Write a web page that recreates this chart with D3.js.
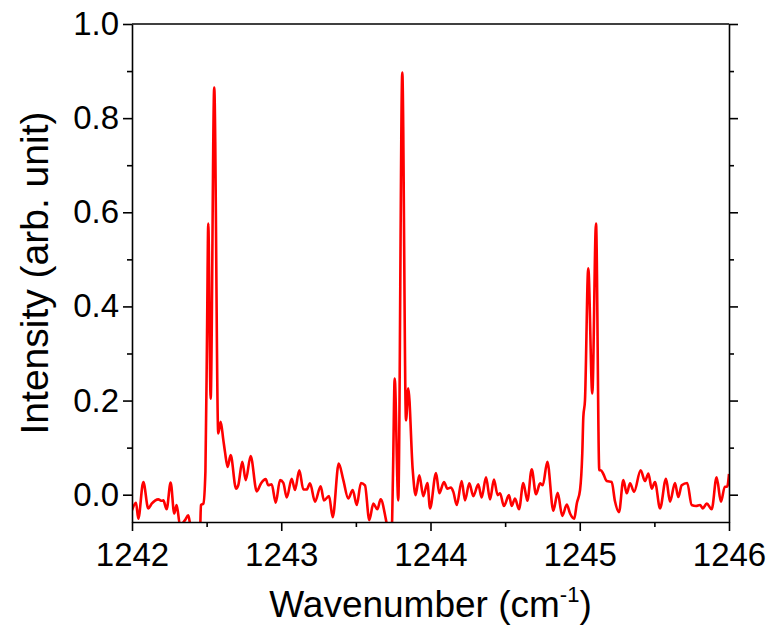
<!DOCTYPE html>
<html>
<head>
<meta charset="utf-8">
<script src="https://cdn.jsdelivr.net/npm/d3@7"></script>
<style>
  body { margin: 0; background: #fff; }
  svg { font-family: Arial, "Liberation Sans", sans-serif; }
</style>
</head>
<body>
<div id="vis"></div>
<script>
const FRAME_WIDTH = 774;
const FRAME_HEIGHT = 628;
const MARGINS = {left: 132, right: 45, top: 24, bottom: 106};

const VIS_WIDTH = FRAME_WIDTH - MARGINS.left - MARGINS.right;
const VIS_HEIGHT = FRAME_HEIGHT - MARGINS.top - MARGINS.bottom;

// spectrum
const wavenumber = [
  1242.000, 1242.027, 1242.042, 1242.076, 1242.109, 1242.132, 1242.176, 1242.199, 1242.210, 1242.232,
  1242.259, 1242.283, 1242.299, 1242.322, 1242.355, 1242.377, 1242.395, 1242.456, 1242.462, 1242.478,
  1242.492, 1242.503, 1242.511, 1242.527, 1242.551, 1242.578, 1242.594, 1242.612, 1242.623, 1242.641,
  1242.661, 1242.697, 1242.712, 1242.739, 1242.762, 1242.795, 1242.836, 1242.864, 1242.896, 1242.913,
  1242.936, 1242.963, 1242.992, 1243.014, 1243.037, 1243.070, 1243.092, 1243.121, 1243.148, 1243.170,
  1243.193, 1243.226, 1243.264, 1243.286, 1243.320, 1243.345, 1243.385, 1243.416, 1243.449, 1243.479,
  1243.506, 1243.534, 1243.561, 1243.590, 1243.617, 1243.644, 1243.666, 1243.702, 1243.715, 1243.740,
  1243.749, 1243.760, 1243.784, 1243.811, 1243.836, 1243.851, 1243.881, 1243.900, 1243.925, 1243.952,
  1243.979, 1243.997, 1244.037, 1244.059, 1244.090, 1244.113, 1244.136, 1244.153, 1244.176, 1244.209,
  1244.231, 1244.260, 1244.287, 1244.320, 1244.343, 1244.372, 1244.399, 1244.425, 1244.450, 1244.466,
  1244.492, 1244.526, 1244.544, 1244.566, 1244.593, 1244.622, 1244.649, 1244.678, 1244.707, 1244.734,
  1244.752, 1244.783, 1244.823, 1244.852, 1244.883, 1244.913, 1244.935, 1244.963, 1244.980, 1245.002,
  1245.017, 1245.024, 1245.035, 1245.057, 1245.084, 1245.109, 1245.131, 1245.141, 1245.158, 1245.181,
  1245.214, 1245.236, 1245.263, 1245.292, 1245.315, 1245.337, 1245.364, 1245.408, 1245.437, 1245.460,
  1245.482, 1245.504, 1245.538, 1245.578, 1245.605, 1245.638, 1245.660, 1245.683, 1245.720, 1245.750,
  1245.779, 1245.806, 1245.824, 1245.851, 1245.884, 1245.917, 1245.946, 1245.972, 1245.988, 1246.000
];
const intensity = [
  -0.033, -0.017, -0.051, 0.027, -0.029, -0.019, -0.010, -0.013, -0.012, -0.031,
  0.026, -0.040, -0.022, -0.065, -0.054, -0.044, -0.070, -0.075, -0.022, -0.019,
  0.050, 0.350, 0.576, 0.204, 0.865, 0.130, 0.155, 0.116, 0.091, 0.059,
  0.084, 0.013, 0.020, 0.070, 0.031, 0.082, 0.007, 0.024, 0.033, 0.020,
  0.022, -0.017, 0.031, 0.025, -0.006, 0.034, 0.010, 0.052, 0.011, 0.011,
  0.024, -0.015, 0.018, -0.012, -0.003, -0.048, 0.066, 0.031, -0.008, 0.010,
  -0.022, 0.025, 0.020, -0.054, -0.019, -0.031, -0.010, -0.054, -0.075, -0.075,
  0.050, 0.247, -0.012, 0.897, 0.158, 0.226, 0.052, -0.001, 0.041, -0.003,
  0.025, -0.029, 0.046, 0.003, 0.027, 0.013, 0.015, 0.006, -0.022, 0.029,
  -0.012, 0.024, -0.003, 0.022, -0.006, 0.037, -0.010, 0.032, -0.001, 0.003,
  -0.024, -0.001, -0.024, -0.008, -0.031, 0.025, -0.013, 0.054, 0.001, 0.024,
  0.020, 0.070, -0.034, 0.004, -0.045, -0.021, -0.040, -0.051, -0.019, 0.010,
  0.088, 0.165, 0.200, 0.481, 0.215, 0.576, 0.052, 0.052, 0.044, 0.029,
  0.027, -0.014, -0.037, 0.031, 0.003, 0.024, 0.006, 0.052, 0.029, 0.045,
  0.013, 0.027, -0.029, 0.034, -0.015, 0.025, -0.005, 0.020, 0.025, -0.022,
  -0.024, -0.022, -0.029, -0.019, -0.031, 0.037, -0.015, 0.017, 0.017, 0.044
];

const xTicks = [1242, 1243, 1244, 1245, 1246];
const xMinor = [1242.5, 1243.5, 1244.5, 1245.5];
const yTicks = [0.0, 0.2, 0.4, 0.6, 0.8, 1.0];
const yMinor = [0.1, 0.3, 0.5, 0.7, 0.9];

const data = wavenumber.map((w, i) => ({x: w, y: intensity[i]}));

const FRAME = d3.select("#vis")
                .append("svg")
                  .attr("width", FRAME_WIDTH)
                  .attr("height", FRAME_HEIGHT);

const X_SCALE = d3.scaleLinear()
                  .domain([1242, 1246])
                  .range([0, VIS_WIDTH]);

const Y_SCALE = d3.scaleLinear()
                  .domain([-0.058, 1.0])
                  .range([VIS_HEIGHT, 0]);

const G = FRAME.append("g")
               .attr("transform", "translate(" + MARGINS.left + "," + MARGINS.top + ")");

G.append("clipPath")
   .attr("id", "clip")
 .append("rect")
   .attr("width", VIS_WIDTH)
   .attr("height", VIS_HEIGHT);

// spectrum line
G.append("path")
   .datum(data)
   .attr("clip-path", "url(#clip)")
   .attr("fill", "none")
   .attr("stroke", "#ff0000")
   .attr("stroke-width", 2.6)
   .attr("stroke-linejoin", "round")
   .attr("d", d3.line()
                .x((d) => X_SCALE(d.x))
                .y((d) => Y_SCALE(d.y))
                .curve(d3.curveMonotoneX));

// axes
function styleAxis(g) {
  g.selectAll(".domain").attr("stroke", "#000").attr("stroke-width", 1.6);
  g.selectAll(".tick line").attr("stroke", "#000").attr("stroke-width", 1.6);
  g.selectAll("text").attr("fill", "#000").attr("font-size", "33px");
}

G.append("g")
   .attr("transform", "translate(0," + VIS_HEIGHT + ")")
   .call(d3.axisBottom(X_SCALE).tickValues(xTicks).tickFormat(d3.format("d"))
           .tickSize(9).tickSizeOuter(0).tickPadding(12))
   .call(styleAxis);

G.append("g")
   .attr("transform", "translate(0," + VIS_HEIGHT + ")")
   .call(d3.axisBottom(X_SCALE).tickValues(xMinor).tickFormat("").tickSize(5).tickSizeOuter(0))
   .call(styleAxis)
   .select(".domain").remove();

G.append("g")
   .call(d3.axisLeft(Y_SCALE).tickValues(yTicks).tickFormat(d3.format(".1f"))
           .tickSize(9).tickSizeOuter(0).tickPadding(4))
   .call(styleAxis);

G.append("g")
   .call(d3.axisLeft(Y_SCALE).tickValues(yMinor).tickFormat("").tickSize(5).tickSizeOuter(0))
   .call(styleAxis)
   .select(".domain").remove();

G.append("g")
   .attr("transform", "translate(" + VIS_WIDTH + ",0)")
   .call(d3.axisRight(Y_SCALE).tickValues(yTicks).tickFormat("").tickSize(9).tickSizeOuter(0))
   .call(styleAxis);

G.append("g")
   .attr("transform", "translate(" + VIS_WIDTH + ",0)")
   .call(d3.axisRight(Y_SCALE).tickValues(yMinor).tickFormat("").tickSize(5).tickSizeOuter(0))
   .call(styleAxis)
   .select(".domain").remove();

// top border
G.append("line")
   .attr("x1", 0).attr("x2", VIS_WIDTH)
   .attr("y1", 0).attr("y2", 0)
   .attr("stroke", "#000").attr("stroke-width", 1.6);

// axis titles
const xTitle = FRAME.append("text")
   .attr("x", MARGINS.left + VIS_WIDTH / 2)
   .attr("y", 617)
   .attr("text-anchor", "middle")
   .attr("font-size", "37px");
xTitle.append("tspan").text("Wavenumber (cm");
xTitle.append("tspan").attr("font-size", "22px").attr("dy", -15).text("-1");
xTitle.append("tspan").attr("dy", 15).text(")");

FRAME.append("text")
   .attr("transform", "translate(48," + (MARGINS.top + 249) + ") rotate(-90)")
   .attr("text-anchor", "middle")
   .attr("font-size", "39px")
   .text("Intensity (arb. unit)");
</script>
</body>
</html>
